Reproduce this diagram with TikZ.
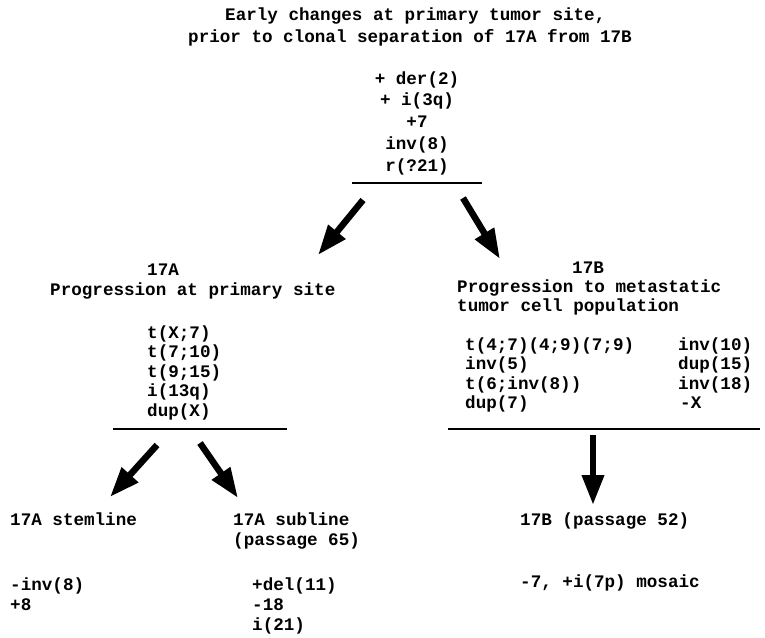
\documentclass[tikz,border=0pt]{standalone}
\usepackage{fontspec}
\setmainfont{Liberation Mono}
\usetikzlibrary{arrows.meta}
\tikzset{
  txt/.style={font=\bfseries\fontsize{17.6}{20}\selectfont, inner sep=0pt, anchor=base west},
  ctxt/.style={txt, anchor=base},
  rule/.style={line width=1.4pt},
  bigarrow/.style={line width=6.5pt, -{Triangle[length=30pt,width=21pt]}, shorten <=0pt}
}
\begin{document}
\begin{tikzpicture}[x=1pt,y=-1pt]
\path[use as bounding box] (0,0) rectangle (765,637);
% title
\node[txt] (t1) at (225,20) {Early changes at primary tumor site,};
\node[txt] (t2) at (188,42) {prior to clonal separation of 17A from 17B};
% early changes
\node[ctxt] (e1) at (417,84) {+ der(2)};
\node[ctxt] (e2) at (417,105.5) {+ i(3q)};
\node[ctxt] (e3) at (417,127) {+7};
\node[ctxt] (e4) at (417,149) {inv(8)};
\node[ctxt] (e5) at (417,171) {r(?21)};
\coordinate (r1a) at (352,183);
\coordinate (r1b) at (482,183);
\draw[rule] (r1a) -- (r1b);
% arrows from top
\coordinate (a1s) at (363,200); \coordinate (a1e) at (318,255);
\coordinate (a2s) at (463,198); \coordinate (a2e) at (500,259);
\draw[bigarrow] (a1s) -- (a1e);
\draw[bigarrow] (a2s) -- (a2e);
% 17A
\node[txt] (h17a) at (147,275) {17A};
\node[txt] (p17a) at (50,295) {Progression at primary site};
\node[txt] (la1) at (147,338) {t(X;7)};
\node[txt] (la2) at (147,357.5) {t(7;10)};
\node[txt] (la3) at (147,377) {t(9;15)};
\node[txt] (la4) at (147,396.5) {i(13q)};
\node[txt] (la5) at (147,416) {dup(X)};
\coordinate (r2a) at (113,429);
\coordinate (r2b) at (287,429);
\draw[rule] (r2a) -- (r2b);
% 17B
\node[txt] (h17b) at (572,273) {17B};
\node[txt] (p17b1) at (457,292) {Progression to metastatic};
\node[txt] (p17b2) at (457,311) {tumor cell population};
\node[txt] (lb1) at (465,350) {t(4;7)(4;9)(7;9)};
\node[txt] (lb2) at (465,369.5) {inv(5)};
\node[txt] (lb3) at (465,389) {t(6;inv(8))};
\node[txt] (lb4) at (465,408.5) {dup(7)};
\node[txt] (lc1) at (678,350) {inv(10)};
\node[txt] (lc2) at (678,369.5) {dup(15)};
\node[txt] (lc3) at (678,389) {inv(18)};
\node[txt] (lc4) at (680,408.5) {-X};
\coordinate (r3a) at (448,429);
\coordinate (r3b) at (760,429);
\draw[rule] (r3a) -- (r3b);
% lower arrows
\coordinate (a3s) at (157,445); \coordinate (a3e) at (110,497);
\coordinate (a4s) at (200,443); \coordinate (a4e) at (238,498);
\coordinate (a5s) at (593,435); \coordinate (a5e) at (593,505);
\draw[bigarrow] (a3s) -- (a3e);
\draw[bigarrow] (a4s) -- (a4e);
\draw[bigarrow] (a5s) -- (a5e);
% bottom
\node[txt] (s1) at (10,525) {17A stemline};
\node[txt] (s2) at (10,590) {-inv(8)};
\node[txt] (s3) at (10,610) {+8};
\node[txt] (u1) at (233,525) {17A subline};
\node[txt] (u2) at (233,545) {(passage 65)};
\node[txt] (u3) at (252,590) {+del(11)};
\node[txt] (u4) at (252,610) {-18};
\node[txt] (u5) at (252,630) {i(21)};
\node[txt] (b1) at (520,525) {17B (passage 52)};
\node[txt] (b2) at (520,587) {-7, +i(7p) mosaic};
\end{tikzpicture}
\end{document}
